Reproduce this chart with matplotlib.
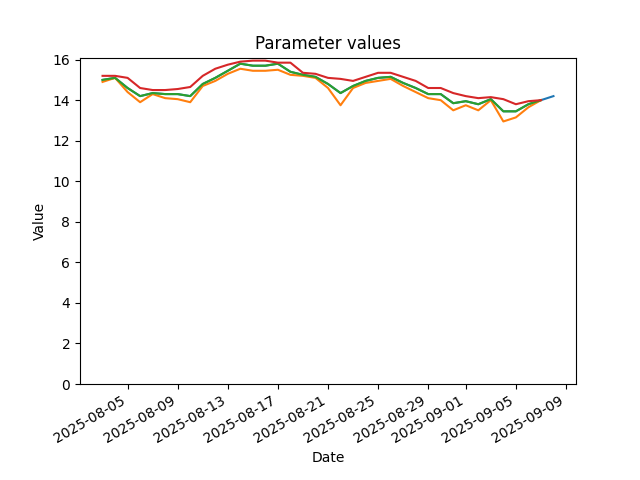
import matplotlib
matplotlib.use("Agg")
import matplotlib.pyplot as plt
import numpy as np
import pandas as pd

dates = pd.date_range("2025-08-03", "2025-09-08", freq="D")

green = [15.0, 15.1, 14.6, 14.2, 14.35, 14.3, 14.3, 14.2, 14.8, 15.1,
         15.45, 15.8, 15.7, 15.7, 15.8, 15.4, 15.25, 15.15, 14.8, 14.35,
         14.7, 14.95, 15.1, 15.15, 14.85, 14.6, 14.3, 14.3, 13.85, 13.95,
         13.8, 14.05, 13.45, 13.45, 13.8, 14.0]
orange = [14.9, 15.1, 14.4, 13.9, 14.3, 14.1, 14.05, 13.9, 14.7, 14.95,
          15.3, 15.55, 15.45, 15.45, 15.5, 15.25, 15.2, 15.1, 14.6, 13.75,
          14.6, 14.85, 14.95, 15.05, 14.7, 14.4, 14.1, 14.0, 13.5, 13.75,
          13.5, 14.0, 12.95, 13.15, 13.65, 14.0]
red = [15.2, 15.2, 15.1, 14.6, 14.5, 14.5, 14.55, 14.65, 15.2, 15.55,
       15.75, 15.9, 15.95, 15.95, 15.85, 15.85, 15.35, 15.3, 15.1, 15.05,
       14.95, 15.15, 15.35, 15.35, 15.15, 14.95, 14.6, 14.6, 14.35, 14.2,
       14.1, 14.15, 14.05, 13.8, 13.95, 14.0]
blue = green + [14.2]

fig, ax = plt.subplots(figsize=(6.4, 4.8), dpi=100)
ax.plot(dates, blue)
ax.plot(dates[:len(orange)], orange)
ax.plot(dates[:len(green)], green)
ax.plot(dates[:len(red)], red)
ax.set_ylim(bottom=0)
ax.set_title("Parameter values")
ax.set_xlabel("Date")
ax.set_ylabel("Value")
fig.autofmt_xdate()
fig.savefig("out.png")
